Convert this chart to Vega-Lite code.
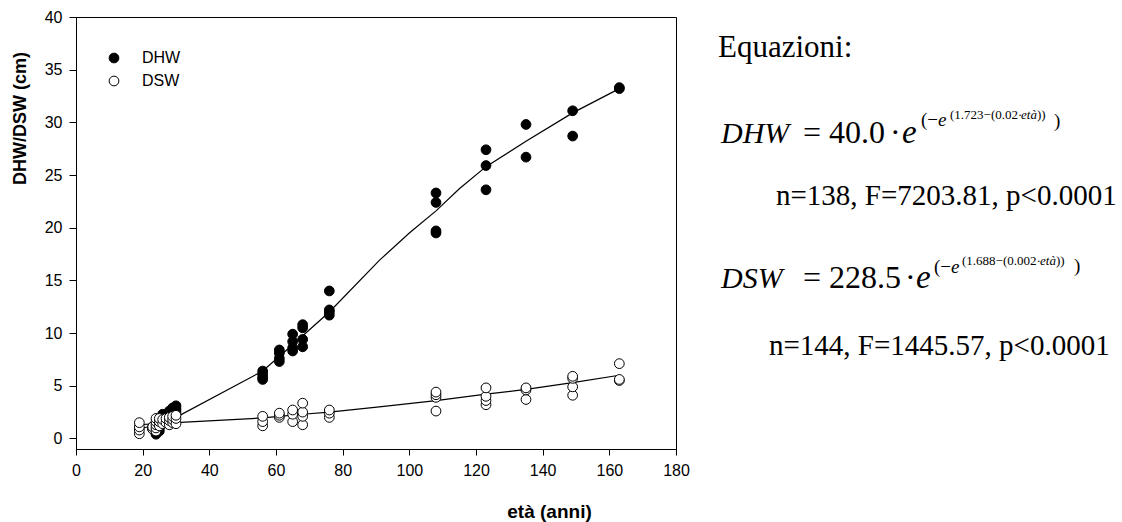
{
  "$schema": "https://vega.github.io/schema/vega-lite/v6.json",
  "background": "white",
  "padding": {"left": 10, "top": 8, "right": 5, "bottom": 5},
  "config": {
    "font": "Liberation Sans",
    "view": {"stroke": null},
    "axis": {"grid": false, "domainColor": "black", "tickColor": "black", "labelColor": "black", "titleColor": "black", "domainWidth": 1, "tickWidth": 1}
  },
  "datasets": {
    "punti": [
      {"eta": 23, "diametro": 0.9, "serie": "DHW"}, {"eta": 23, "diametro": 1.1, "serie": "DHW"},
      {"eta": 24, "diametro": 0.4, "serie": "DHW"}, {"eta": 24, "diametro": 0.6, "serie": "DHW"}, {"eta": 24, "diametro": 0.8, "serie": "DHW"}, {"eta": 24, "diametro": 1.0, "serie": "DHW"}, {"eta": 24, "diametro": 1.3, "serie": "DHW"},
      {"eta": 25, "diametro": 0.7, "serie": "DHW"}, {"eta": 25, "diametro": 1.0, "serie": "DHW"}, {"eta": 25, "diametro": 1.4, "serie": "DHW"},
      {"eta": 26, "diametro": 1.6, "serie": "DHW"}, {"eta": 26, "diametro": 2.0, "serie": "DHW"}, {"eta": 26, "diametro": 2.3, "serie": "DHW"},
      {"eta": 27, "diametro": 1.8, "serie": "DHW"}, {"eta": 27, "diametro": 2.1, "serie": "DHW"},
      {"eta": 28, "diametro": 2.0, "serie": "DHW"}, {"eta": 28, "diametro": 2.4, "serie": "DHW"}, {"eta": 28, "diametro": 2.6, "serie": "DHW"},
      {"eta": 29, "diametro": 2.3, "serie": "DHW"}, {"eta": 29, "diametro": 2.7, "serie": "DHW"}, {"eta": 29, "diametro": 2.9, "serie": "DHW"},
      {"eta": 30, "diametro": 2.5, "serie": "DHW"}, {"eta": 30, "diametro": 2.8, "serie": "DHW"}, {"eta": 30, "diametro": 3.1, "serie": "DHW"},
      {"eta": 56, "diametro": 5.6, "serie": "DHW"}, {"eta": 56, "diametro": 5.8, "serie": "DHW"}, {"eta": 56, "diametro": 6.1, "serie": "DHW"}, {"eta": 56, "diametro": 6.4, "serie": "DHW"},
      {"eta": 61, "diametro": 7.3, "serie": "DHW"}, {"eta": 61, "diametro": 7.6, "serie": "DHW"}, {"eta": 61, "diametro": 8.1, "serie": "DHW"}, {"eta": 61, "diametro": 8.4, "serie": "DHW"},
      {"eta": 65, "diametro": 8.3, "serie": "DHW"}, {"eta": 65, "diametro": 8.6, "serie": "DHW"}, {"eta": 65, "diametro": 9.2, "serie": "DHW"}, {"eta": 65, "diametro": 9.9, "serie": "DHW"},
      {"eta": 68, "diametro": 8.7, "serie": "DHW"}, {"eta": 68, "diametro": 9.4, "serie": "DHW"}, {"eta": 68, "diametro": 10.5, "serie": "DHW"}, {"eta": 68, "diametro": 10.8, "serie": "DHW"},
      {"eta": 76, "diametro": 11.7, "serie": "DHW"}, {"eta": 76, "diametro": 12.0, "serie": "DHW"}, {"eta": 76, "diametro": 12.2, "serie": "DHW"}, {"eta": 76, "diametro": 14.0, "serie": "DHW"},
      {"eta": 108, "diametro": 19.5, "serie": "DHW"}, {"eta": 108, "diametro": 19.7, "serie": "DHW"}, {"eta": 108, "diametro": 22.4, "serie": "DHW"}, {"eta": 108, "diametro": 23.3, "serie": "DHW"},
      {"eta": 123, "diametro": 23.6, "serie": "DHW"}, {"eta": 123, "diametro": 25.9, "serie": "DHW"}, {"eta": 123, "diametro": 27.4, "serie": "DHW"},
      {"eta": 135, "diametro": 26.7, "serie": "DHW"}, {"eta": 135, "diametro": 29.8, "serie": "DHW"},
      {"eta": 149, "diametro": 28.7, "serie": "DHW"}, {"eta": 149, "diametro": 31.1, "serie": "DHW"},
      {"eta": 163, "diametro": 33.2, "serie": "DHW"}, {"eta": 163, "diametro": 33.3, "serie": "DHW"},
      {"eta": 19, "diametro": 0.45, "serie": "DSW"}, {"eta": 19, "diametro": 0.8, "serie": "DSW"}, {"eta": 19, "diametro": 1.1, "serie": "DSW"}, {"eta": 19, "diametro": 1.5, "serie": "DSW"},
      {"eta": 23, "diametro": 0.9, "serie": "DSW"}, {"eta": 23, "diametro": 1.1, "serie": "DSW"},
      {"eta": 24, "diametro": 0.7, "serie": "DSW"}, {"eta": 24, "diametro": 1.0, "serie": "DSW"}, {"eta": 24, "diametro": 1.3, "serie": "DSW"}, {"eta": 24, "diametro": 1.6, "serie": "DSW"}, {"eta": 24, "diametro": 1.9, "serie": "DSW"},
      {"eta": 25, "diametro": 1.2, "serie": "DSW"}, {"eta": 25, "diametro": 1.6, "serie": "DSW"}, {"eta": 25, "diametro": 1.9, "serie": "DSW"},
      {"eta": 26, "diametro": 1.4, "serie": "DSW"}, {"eta": 26, "diametro": 1.8, "serie": "DSW"},
      {"eta": 27, "diametro": 1.5, "serie": "DSW"}, {"eta": 27, "diametro": 1.9, "serie": "DSW"},
      {"eta": 28, "diametro": 1.3, "serie": "DSW"}, {"eta": 28, "diametro": 1.7, "serie": "DSW"}, {"eta": 28, "diametro": 2.0, "serie": "DSW"},
      {"eta": 29, "diametro": 1.5, "serie": "DSW"}, {"eta": 29, "diametro": 1.8, "serie": "DSW"}, {"eta": 29, "diametro": 2.1, "serie": "DSW"},
      {"eta": 30, "diametro": 1.4, "serie": "DSW"}, {"eta": 30, "diametro": 1.9, "serie": "DSW"}, {"eta": 30, "diametro": 2.2, "serie": "DSW"},
      {"eta": 56, "diametro": 1.2, "serie": "DSW"}, {"eta": 56, "diametro": 1.6, "serie": "DSW"}, {"eta": 56, "diametro": 2.1, "serie": "DSW"},
      {"eta": 61, "diametro": 2.0, "serie": "DSW"}, {"eta": 61, "diametro": 2.2, "serie": "DSW"}, {"eta": 61, "diametro": 2.4, "serie": "DSW"},
      {"eta": 65, "diametro": 1.6, "serie": "DSW"}, {"eta": 65, "diametro": 2.3, "serie": "DSW"}, {"eta": 65, "diametro": 2.7, "serie": "DSW"},
      {"eta": 68, "diametro": 1.3, "serie": "DSW"}, {"eta": 68, "diametro": 2.1, "serie": "DSW"}, {"eta": 68, "diametro": 2.5, "serie": "DSW"}, {"eta": 68, "diametro": 3.35, "serie": "DSW"},
      {"eta": 76, "diametro": 2.0, "serie": "DSW"}, {"eta": 76, "diametro": 2.4, "serie": "DSW"}, {"eta": 76, "diametro": 2.7, "serie": "DSW"},
      {"eta": 108, "diametro": 2.6, "serie": "DSW"}, {"eta": 108, "diametro": 3.9, "serie": "DSW"}, {"eta": 108, "diametro": 4.15, "serie": "DSW"}, {"eta": 108, "diametro": 4.4, "serie": "DSW"},
      {"eta": 123, "diametro": 3.2, "serie": "DSW"}, {"eta": 123, "diametro": 3.6, "serie": "DSW"}, {"eta": 123, "diametro": 4.0, "serie": "DSW"}, {"eta": 123, "diametro": 4.8, "serie": "DSW"},
      {"eta": 135, "diametro": 3.7, "serie": "DSW"}, {"eta": 135, "diametro": 4.6, "serie": "DSW"}, {"eta": 135, "diametro": 4.8, "serie": "DSW"},
      {"eta": 149, "diametro": 4.1, "serie": "DSW"}, {"eta": 149, "diametro": 4.9, "serie": "DSW"}, {"eta": 149, "diametro": 5.7, "serie": "DSW"}, {"eta": 149, "diametro": 5.9, "serie": "DSW"},
      {"eta": 163, "diametro": 5.5, "serie": "DSW"}, {"eta": 163, "diametro": 5.6, "serie": "DSW"}, {"eta": 163, "diametro": 7.1, "serie": "DSW"}
    ],
    "curve": [
      {"eta": 19, "diametro": 0.9, "serie": "DHW"}, {"eta": 24, "diametro": 1.3, "serie": "DHW"}, {"eta": 30, "diametro": 2.0, "serie": "DHW"},
      {"eta": 56, "diametro": 6.4, "serie": "DHW"},
      {"eta": 65, "diametro": 8.9, "serie": "DHW"}, {"eta": 76, "diametro": 12.0, "serie": "DHW"}, {"eta": 91, "diametro": 16.9, "serie": "DHW"},
      {"eta": 100, "diametro": 19.5, "serie": "DHW"}, {"eta": 108, "diametro": 21.6, "serie": "DHW"}, {"eta": 115, "diametro": 23.7, "serie": "DHW"},
      {"eta": 123, "diametro": 25.8, "serie": "DHW"}, {"eta": 135, "diametro": 28.2, "serie": "DHW"}, {"eta": 149, "diametro": 30.9, "serie": "DHW"},
      {"eta": 163, "diametro": 33.2, "serie": "DHW"},
      {"eta": 19, "diametro": 1.3, "serie": "DSW"}, {"eta": 24, "diametro": 1.4, "serie": "DSW"}, {"eta": 30, "diametro": 1.5, "serie": "DSW"},
      {"eta": 56, "diametro": 1.95, "serie": "DSW"}, {"eta": 61, "diametro": 2.1, "serie": "DSW"}, {"eta": 68, "diametro": 2.3, "serie": "DSW"},
      {"eta": 76, "diametro": 2.5, "serie": "DSW"}, {"eta": 91, "diametro": 3.0, "serie": "DSW"}, {"eta": 108, "diametro": 3.6, "serie": "DSW"},
      {"eta": 123, "diametro": 4.2, "serie": "DSW"}, {"eta": 135, "diametro": 4.65, "serie": "DSW"}, {"eta": 149, "diametro": 5.3, "serie": "DSW"},
      {"eta": 163, "diametro": 6.0, "serie": "DSW"}
    ]
  },
  "resolve": {"legend": {"fill": "independent"}, "scale": {"fill": "independent"}},
  "spacing": 20,
  "hconcat": [
    {
      "width": 600,
      "height": 432,
      "view": {"stroke": "black", "strokeWidth": 1},
      "layer": [
        {
          "data": {"name": "curve"},
          "mark": {"type": "line", "color": "black", "strokeWidth": 1.2},
          "encoding": {
            "x": {"field": "eta", "type": "quantitative"},
            "y": {"field": "diametro", "type": "quantitative"},
            "detail": {"field": "serie", "type": "nominal"}
          }
        },
        {
          "data": {"name": "punti"},
          "mark": {"type": "point", "filled": true, "size": 95, "stroke": "black", "strokeWidth": 1, "opacity": 1},
          "encoding": {
            "x": {
              "field": "eta", "type": "quantitative",
              "scale": {"domain": [0, 180], "nice": false, "zero": false},
              "axis": {
                "values": [0, 10, 20, 30, 40, 50, 60, 70, 80, 90, 100, 110, 120, 130, 140, 150, 160, 170, 180],
                "labelExpr": "datum.value % 20 === 0 ? datum.label : ''",
                "labelFlush": false, "labelFontSize": 16, "labelPadding": 7, "tickSize": 6,
                "title": "età (anni)", "titleFontSize": 19, "titleFontWeight": "bold",
                "titleX": 473, "titleY": 53, "titleAlign": "center", "titleBaseline": "top"
              }
            },
            "y": {
              "field": "diametro", "type": "quantitative",
              "scale": {"domain": [-1, 40], "nice": false, "zero": false},
              "axis": {
                "values": [0, 2.5, 5, 7.5, 10, 12.5, 15, 17.5, 20, 22.5, 25, 27.5, 30, 32.5, 35, 37.5, 40],
                "labelExpr": "datum.value % 5 === 0 ? datum.label : ''",
                "labelFlush": false, "labelFontSize": 16, "labelPadding": 7, "tickSize": 7,
                "title": "DHW/DSW (cm)", "titleFontSize": 18, "titleFontWeight": "bold",
                "titleX": -56, "titleY": 101, "titleAlign": "center", "titleBaseline": "middle", "titleAngle": -90
              }
            },
            "fill": {
              "field": "serie", "type": "nominal",
              "scale": {"domain": ["DHW", "DSW"], "range": ["black", "white"]},
              "legend": {
                "orient": "none", "legendX": 30, "legendY": 33, "title": null,
                "labelFontSize": 16, "labelColor": "black", "symbolType": "circle", "symbolSize": 95,
                "symbolStrokeColor": "black", "symbolStrokeWidth": 1, "rowPadding": 7, "labelOffset": 20
              }
            }
          }
        }
      ]
    },
    {
      "width": 400,
      "height": 432,
      "layer": [
        {"data": {"values": [{"t": "Equazioni:"}]}, "mark": {"type": "text", "font": "Liberation Serif", "fontSize": 31, "align": "left", "baseline": "alphabetic", "dx": -192, "dy": -176, "color": "black"}, "encoding": {"text": {"field": "t"}}},
        {"data": {"values": [{"t": "DHW"}]}, "mark": {"type": "text", "font": "Liberation Serif", "fontStyle": "italic", "fontSize": 30, "align": "left", "baseline": "alphabetic", "dx": -189, "dy": -90, "color": "black"}, "encoding": {"text": {"field": "t"}}},
        {"data": {"values": [{"t": "= 40.0"}]}, "mark": {"type": "text", "font": "Liberation Serif", "fontSize": 32, "align": "left", "baseline": "alphabetic", "dx": -107, "dy": -90, "color": "black"}, "encoding": {"text": {"field": "t"}}},
        {"data": {"values": [{"t": "·"}]}, "mark": {"type": "text", "font": "Liberation Serif", "fontSize": 32, "align": "left", "baseline": "alphabetic", "dx": -20, "dy": -90, "color": "black"}, "encoding": {"text": {"field": "t"}}},
        {"data": {"values": [{"t": "e"}]}, "mark": {"type": "text", "font": "Liberation Serif", "fontStyle": "italic", "fontSize": 33, "align": "left", "baseline": "alphabetic", "dx": -8, "dy": -90, "color": "black"}, "encoding": {"text": {"field": "t"}}},
        {"data": {"values": [{"t": "(−"}]}, "mark": {"type": "text", "font": "Liberation Serif", "fontSize": 19, "align": "left", "baseline": "alphabetic", "dx": 11, "dy": -107, "color": "black"}, "encoding": {"text": {"field": "t"}}},
        {"data": {"values": [{"t": "e"}]}, "mark": {"type": "text", "font": "Liberation Serif", "fontStyle": "italic", "fontSize": 19, "align": "left", "baseline": "alphabetic", "dx": 28, "dy": -107, "color": "black"}, "encoding": {"text": {"field": "t"}}},
        {"data": {"values": [{"t": "(1.723−(0.02·"}]}, "mark": {"type": "text", "font": "Liberation Serif", "fontSize": 13, "align": "left", "baseline": "alphabetic", "dx": 40, "dy": -114, "color": "black"}, "encoding": {"text": {"field": "t"}}},
        {"data": {"values": [{"t": "età"}]}, "mark": {"type": "text", "font": "Liberation Serif", "fontStyle": "italic", "fontSize": 13, "align": "left", "baseline": "alphabetic", "dx": 111, "dy": -114, "color": "black"}, "encoding": {"text": {"field": "t"}}},
        {"data": {"values": [{"t": "))"}]}, "mark": {"type": "text", "font": "Liberation Serif", "fontSize": 13, "align": "left", "baseline": "alphabetic", "dx": 127, "dy": -114, "color": "black"}, "encoding": {"text": {"field": "t"}}},
        {"data": {"values": [{"t": ")"}]}, "mark": {"type": "text", "font": "Liberation Serif", "fontSize": 19, "align": "left", "baseline": "alphabetic", "dx": 144, "dy": -106, "color": "black"}, "encoding": {"text": {"field": "t"}}},
        {"data": {"values": [{"t": "n=138, F=7203.81, p<0.0001"}]}, "mark": {"type": "text", "font": "Liberation Serif", "fontSize": 29, "align": "left", "baseline": "alphabetic", "dx": -134, "dy": -28, "color": "black"}, "encoding": {"text": {"field": "t"}}},
        {"data": {"values": [{"t": "DSW"}]}, "mark": {"type": "text", "font": "Liberation Serif", "fontStyle": "italic", "fontSize": 30, "align": "left", "baseline": "alphabetic", "dx": -189, "dy": 55, "color": "black"}, "encoding": {"text": {"field": "t"}}},
        {"data": {"values": [{"t": "= 228.5"}]}, "mark": {"type": "text", "font": "Liberation Serif", "fontSize": 32, "align": "left", "baseline": "alphabetic", "dx": -107, "dy": 55, "color": "black"}, "encoding": {"text": {"field": "t"}}},
        {"data": {"values": [{"t": "·"}]}, "mark": {"type": "text", "font": "Liberation Serif", "fontSize": 32, "align": "left", "baseline": "alphabetic", "dx": -5, "dy": 55, "color": "black"}, "encoding": {"text": {"field": "t"}}},
        {"data": {"values": [{"t": "e"}]}, "mark": {"type": "text", "font": "Liberation Serif", "fontStyle": "italic", "fontSize": 33, "align": "left", "baseline": "alphabetic", "dx": 6, "dy": 55, "color": "black"}, "encoding": {"text": {"field": "t"}}},
        {"data": {"values": [{"t": "(−"}]}, "mark": {"type": "text", "font": "Liberation Serif", "fontSize": 19, "align": "left", "baseline": "alphabetic", "dx": 24, "dy": 40, "color": "black"}, "encoding": {"text": {"field": "t"}}},
        {"data": {"values": [{"t": "e"}]}, "mark": {"type": "text", "font": "Liberation Serif", "fontStyle": "italic", "fontSize": 19, "align": "left", "baseline": "alphabetic", "dx": 41, "dy": 40, "color": "black"}, "encoding": {"text": {"field": "t"}}},
        {"data": {"values": [{"t": "(1.688−(0.002·"}]}, "mark": {"type": "text", "font": "Liberation Serif", "fontSize": 13, "align": "left", "baseline": "alphabetic", "dx": 52, "dy": 32, "color": "black"}, "encoding": {"text": {"field": "t"}}},
        {"data": {"values": [{"t": "età"}]}, "mark": {"type": "text", "font": "Liberation Serif", "fontStyle": "italic", "fontSize": 13, "align": "left", "baseline": "alphabetic", "dx": 130, "dy": 32, "color": "black"}, "encoding": {"text": {"field": "t"}}},
        {"data": {"values": [{"t": "))"}]}, "mark": {"type": "text", "font": "Liberation Serif", "fontSize": 13, "align": "left", "baseline": "alphabetic", "dx": 146, "dy": 32, "color": "black"}, "encoding": {"text": {"field": "t"}}},
        {"data": {"values": [{"t": ")"}]}, "mark": {"type": "text", "font": "Liberation Serif", "fontSize": 19, "align": "left", "baseline": "alphabetic", "dx": 164, "dy": 39, "color": "black"}, "encoding": {"text": {"field": "t"}}},
        {"data": {"values": [{"t": "n=144, F=1445.57, p<0.0001"}]}, "mark": {"type": "text", "font": "Liberation Serif", "fontSize": 29, "align": "left", "baseline": "alphabetic", "dx": -141, "dy": 122, "color": "black"}, "encoding": {"text": {"field": "t"}}}
      ]
    }
  ]
}
